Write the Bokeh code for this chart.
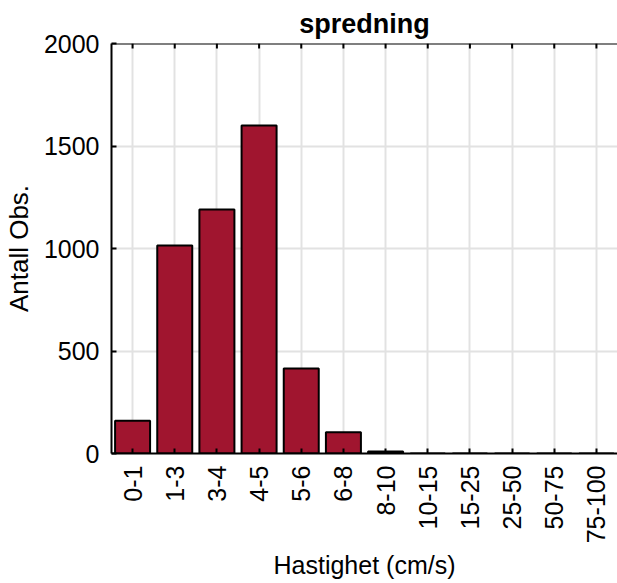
import math
from bokeh.plotting import figure
from bokeh.models import Range1d, FixedTicker, Span
from bokeh.embed import file_html
from bokeh.resources import INLINE

# Speed classes (cm/s) and number of observations in each
categories = ["0-1", "1-3", "3-4", "4-5", "5-6", "6-8",
              "8-10", "10-15", "15-25", "25-50", "50-75", "75-100"]
counts = [160, 1015, 1190, 1600, 415, 104, 10, 0, 0, 0, 0, 0]
y_ticks = [0, 500, 1000, 1500, 2000]

FONT = "Liberation Sans"
BAR_COLOR = "#A0152F"
Y_MAX = 2000

p = figure(
    x_range=categories,
    y_range=Range1d(0, Y_MAX),
    width=617, height=583,
    output_backend="svg",
    toolbar_location=None,
    min_border_left=110, min_border_right=0,
    min_border_top=43, min_border_bottom=130,
    background_fill_color="white", border_fill_color="white",
)
p.outline_line_color = None

p.title.text = "spredning"
p.title.align = "center"
p.title.text_font = FONT
p.title.text_font_size = "27px"
p.title.text_font_style = "bold"
p.title.text_color = "black"

p.vbar(x=categories, top=counts, width=0.83,
       fill_color=BAR_COLOR, line_color="black", line_width=2)

# grid
p.xgrid.grid_line_color = "#e2e2e2"
p.xgrid.grid_line_width = 2
p.ygrid.grid_line_color = "#e2e2e2"
p.ygrid.grid_line_width = 2

# y axis
ya = p.yaxis[0]
ya.ticker = FixedTicker(ticks=y_ticks)
ya.axis_label = "Antall Obs."
ya.axis_label_text_font = FONT
ya.axis_label_text_font_size = "26px"
ya.axis_label_text_font_style = "normal"
ya.axis_label_text_color = "black"
ya.axis_label_standoff = 7
ya.major_label_text_font = FONT
ya.major_label_text_font_size = "25px"
ya.major_label_text_color = "black"
ya.major_label_standoff = 12
ya.major_tick_in = 5
ya.major_tick_out = 0
ya.minor_tick_line_color = None
ya.axis_line_width = 2
ya.major_tick_line_width = 2

# x axis
xa = p.xaxis[0]
xa.axis_label = "Hastighet (cm/s)"
xa.axis_label_text_font = FONT
xa.axis_label_text_font_size = "25px"
xa.axis_label_text_font_style = "normal"
xa.axis_label_text_color = "black"
xa.axis_label_standoff = 5
xa.major_label_text_font = FONT
xa.major_label_text_font_size = "25px"
xa.major_label_text_color = "black"
xa.major_label_orientation = math.pi / 2
xa.major_label_standoff = 12
xa.major_tick_in = 5
xa.major_tick_out = 0
xa.axis_line_width = 2
xa.major_tick_line_width = 2

# top frame line with short inward ticks at each class
p.add_layout(Span(location=Y_MAX, dimension="width",
                  line_color="black", line_width=2))
tick_len = Y_MAX * 5 / 410
p.segment(x0=categories, y0=[Y_MAX] * len(categories),
          x1=categories, y1=[Y_MAX - tick_len] * len(categories),
          line_color="black", line_width=2)

open("out.html", "w").write(file_html(p, INLINE))
